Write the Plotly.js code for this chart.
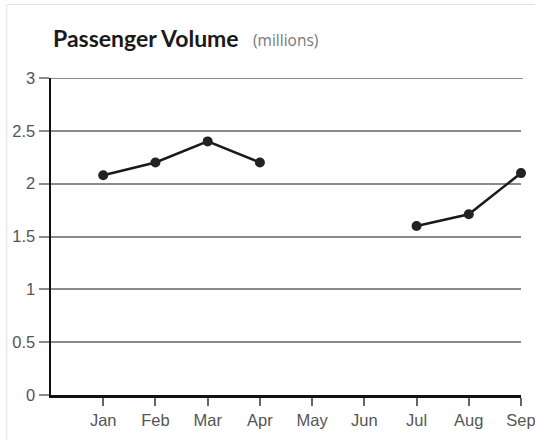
<!DOCTYPE html>
<html>
<head>
<meta charset="utf-8">
<script src="https://cdn.plot.ly/plotly-3.0.1.min.js"></script>
<style>html,body{margin:0;padding:0;background:#fff;}#chart{width:535px;height:440px;}</style>
</head>
<body>
<div id="chart"></div>
<script>
var months = ["Jan","Feb","Mar","Apr","May","Jun","Jul","Aug","Sep"];
var passengers = [2.08, 2.2, 2.4, 2.2, null, null, 1.6, 1.71, 2.1];
var yTicks = [0, 0.5, 1, 1.5, 2, 2.5, 3];
var yTickText = ["0", "0.5", "1", "1.5", "2", "2.5", "3"];
var yMax = 3;
var titleMain = "Passenger Volume";
var titleUnit = "(millions)";

var tickFont = {family: "Liberation Sans", size: 16.5, color: "#555"};

var trace = {
  x: months,
  y: passengers,
  type: "scatter",
  mode: "lines+markers",
  connectgaps: false,
  line: {color: "#1a1a1a", width: 2.5},
  marker: {color: "#222", size: 10},
  hoverinfo: "skip",
  cliponaxis: false
};

var layout = {
  width: 535, height: 440,
  margin: {l: 51, r: 14, t: 78, b: 45, pad: 0},
  paper_bgcolor: "#fff", plot_bgcolor: "#fff",
  showlegend: false,
  font: {family: "Liberation Sans", color: "#555", size: 16},
  xaxis: {
    type: "category",
    range: [-1, 8],
    showgrid: false,
    zeroline: false,
    showline: true, linecolor: "#111", linewidth: 3,
    ticks: "outside", ticklen: 8, tickwidth: 2, tickcolor: "#666",
    tickfont: tickFont,
    fixedrange: true
  },
  yaxis: {
    range: [0, yMax],
    tickvals: yTicks, ticktext: yTickText,
    showgrid: true, gridcolor: "#8a8a8a", gridwidth: 2,
    zeroline: false,
    showline: true, linecolor: "#111", linewidth: 2.5,
    ticks: "outside", ticklen: 10, tickwidth: 2, tickcolor: "#8a8a8a",
    tickfont: tickFont,
    fixedrange: true
  },
  annotations: [
    {text: titleMain, xref: "paper", yref: "paper", x: 0.0, y: 1.127,
     xanchor: "left", yanchor: "middle", showarrow: false,
     font: {family: "Lato, Open Sans, sans-serif", size: 23, weight: "bold", color: "#1a1a1a"}},
    {text: titleUnit, xref: "paper", yref: "paper", x: 0.425, y: 1.12,
     xanchor: "left", yanchor: "middle", showarrow: false,
     font: {family: "Open Sans, Lato, sans-serif", size: 15.5, color: "#777"}}
  ],
  shapes: [
    {type: "rect", xref: "paper", yref: "paper", x0: -0.094, x1: 1.2, y0: -0.3, y1: 1.232,
     line: {color: "#e2e2e2", width: 1}, layer: "below"},
    {type: "line", xref: "paper", yref: "y", x0: 0, x1: 1.004, y0: yMax, y1: yMax,
     line: {color: "#8a8a8a", width: 2}, layer: "below"}
  ]
};

Plotly.newPlot("chart", [trace], layout, {displayModeBar: false, staticPlot: true});
</script>
</body>
</html>
